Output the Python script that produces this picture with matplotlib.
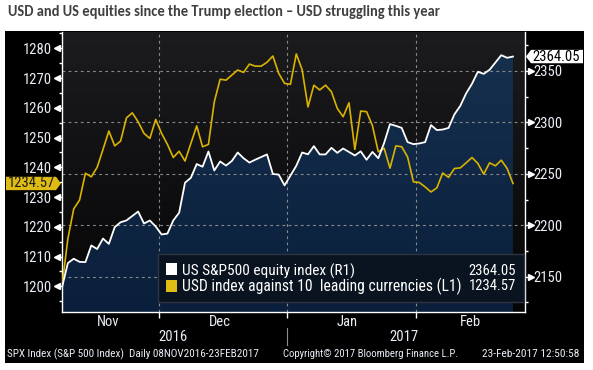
import numpy as np
import pandas as pd
import matplotlib
matplotlib.use('Agg')
import matplotlib.pyplot as plt
from matplotlib import font_manager as fm
from matplotlib.patches import Rectangle, Polygon
import matplotlib.transforms as mtransforms
from matplotlib.colors import to_rgb

W, H = 593, 370

names = sorted({f.name for f in fm.fontManager.ttflist})
def pick(cands, default):
    for c in cands:
        if c in names:
            return c
    return default
NARROW = pick(['Roboto Condensed', 'Open Sans Condensed', 'Liberation Sans Narrow'], 'Liberation Sans')
TITLE_FONT = pick(['Carlito', 'Lato'], 'DejaVu Sans')

# ---------------- data ----------------
dates = pd.bdate_range('2016-11-08', '2017-02-23')   # weekday axis
spx = [2139.56, 2163.26, 2167.48, 2164.45, 2164.20, 2180.39, 2176.94, 2187.12, 2181.90,
       2198.18, 2202.94, 2204.72, None, 2213.35, 2201.72, 2204.66, 2198.81,
       2191.08, 2191.95, 2204.71, 2212.23, 2241.35, 2246.19, 2259.53, 2256.96, 2271.72,
       2253.28, 2262.03, 2258.07, 2262.53, 2270.76, 2265.18, 2260.96, 2263.79, None,
       2268.88, 2249.92, 2249.26, 2238.83,
       None, 2257.83, 2270.75, 2269.00, 2276.98, 2268.90, 2268.90, 2275.32, 2270.44, 2274.64,
       None, 2267.89, 2271.89, 2263.69, 2271.31, 2265.20, 2280.07, 2298.37, 2296.68, 2294.69,
       2280.90, 2278.87,
       2279.55, 2280.85, 2297.42, 2292.56, 2293.08, 2294.67, 2307.87, 2316.10, 2328.25,
       2337.58, 2349.25, 2347.22, 2351.16, None, 2365.38, 2362.82, 2364.05]
usd = [1200.0, 1216.0, 1226.0, 1229.0, 1238.0, 1236.8, 1240.0, 1246.0, 1252.2, 1247.2,
       1248.8, 1256.6, 1258.3, 1255.3, 1251.4, 1249.7, 1256.1,
       1251.4, 1247.7, 1243.3, 1245.4, 1242.1, 1248.0, 1253.9, 1246.9, 1247.7, 1262.0,
       1269.6, 1269.3, 1271.0, 1272.7, 1271.9, 1274.7, 1274.0, 1274.0, 1275.3, 1277.4,
       1271.6, 1268.2,
       1267.9, 1278.1, 1272.8, 1260.3, 1267.6, 1266.0, 1267.6, 1265.4, 1259.8, 1257.0,
       1261.7, 1246.0, 1258.9, 1258.7, 1254.0, 1245.2, 1246.4, 1239.7, 1247.2, 1246.9,
       1243.5, 1235.1,
       1234.9, 1233.4, 1231.7, 1233.1, 1238.1, 1236.6, 1239.6, 1239.8, 1241.5, 1243.3,
       1241.3, 1237.7, 1241.5, 1240.5, 1242.4, 1239.6, 1234.57]
months = ['Nov', 'Dec', 'Jan', 'Feb']
years = ['2016', '2017']
spx_label = 'US S&P500 equity index (R1)'
usd_label = 'USD index against 10  leading currencies (L1)'
spx_last = '2364.05'
usd_last = '1234.57'
title = 'USD and US equities since the Trump election \u2013 USD struggling this year'
footer_left = 'SPX Index (S&P 500 Index)  Daily 08NOV2016-23FEB2017'
footer_mid = 'Copyright\u00a9 2017 Bloomberg Finance L.P.'
footer_right = '23-Feb-2017 12:50:58'

# ---------------- layout helpers ----------------
def fx(x): return x / W
def fy(y): return 1 - y / H

TXT = '#e9eef6'
YEL = '#d9b300'
GRID = '#8a8a8a'

fig = plt.figure(figsize=(W / 100, H / 100), dpi=100)
fig.patch.set_facecolor('white')
renderer = fig.canvas.get_renderer()

def fit(t, target):
    w = t.get_window_extent(renderer).width
    t.set_fontsize(t.get_fontsize() * target / w)
    return t

fig.add_artist(Rectangle((fx(5), fy(363)), fx(584) - fx(5), fy(31) - fy(363),
                         transform=fig.transFigure, facecolor='black', edgecolor='none', zorder=-1))

L, R, T, B = 62, 525, 31.5, 312
ax = fig.add_axes([fx(L), fy(B), fx(R) - fx(L), fy(T) - fy(B)])
ax2 = ax.twinx()
ax.yaxis.tick_right()
ax2.yaxis.tick_left()
ax.set_facecolor('black')

x = np.arange(len(dates))
spx_arr = np.array([np.nan if v is None else v for v in spx], dtype=float)
valid = ~np.isnan(spx_arr)
xs, ys = x[valid], spx_arr[valid]

def vgrad(top, bottom, n=256):
    t = np.linspace(0, 1, n)[:, None]
    a, b = np.array(to_rgb(top)), np.array(to_rgb(bottom))
    return (a * (1 - t) + b * t)[:, None, :]

ax.imshow(vgrad('#1c1c1f', '#050506'), extent=[0, 1, 0, 1], transform=ax.transAxes,
          aspect='auto', zorder=0, interpolation='bilinear')
poly = ax.fill_between(xs, ys, 1900, facecolor='none', edgecolor='none')
im = ax.imshow(vgrad('#16314f', '#0a1f3b'), extent=[0, 1, 0, 1], transform=ax.transAxes,
               aspect='auto', zorder=1, interpolation='bilinear')
im.set_clip_path(poly.get_paths()[0], transform=ax.transData)
poly.set_visible(False)

XMAX = 79.05
ax.set_xlim(0, XMAX)
ax.set_ylim(2115.7, 2388.4)
ax2.set_ylim(1191.36, 1285.65)

# grid
bounds = [16.5, 38.5, 60.5]
for b in bounds:
    ax.axvline(b, color=GRID, lw=0.8, ls=(0, (2.5, 3)), zorder=2)
for v in [2150, 2200, 2250, 2300, 2350]:
    ax.axhline(v, color=GRID, lw=0.8, ls=(0, (2.5, 3)), zorder=2)

# lines
ax2.plot(x, usd, color=YEL, lw=1.2, zorder=3)
ax2.plot(xs, ys, color='white', lw=1.3, zorder=4, transform=ax.transData)
ax2.set_xlim(0, XMAX)

# axes styling
for s in ['left', 'bottom', 'right']:
    ax.spines[s].set_color('white')
    ax.spines[s].set_linewidth(1.0)
ax.spines['top'].set_visible(False)
for s in ax2.spines.values():
    s.set_visible(False)

fs_tick = 10.5
ax.set_yticks([2150, 2200, 2250, 2300, 2350])
ax.set_yticks(np.arange(2125, 2400, 50), minor=True)
ax.tick_params(axis='y', which='major', colors='white', labelcolor=TXT, length=4.3, width=1,
               pad=1.6, labelsize=fs_tick)
ax.tick_params(axis='y', which='minor', colors='white', length=2.5, width=1)
for lab in ax.get_yticklabels():
    lab.set_fontfamily(NARROW)
ax2.set_yticks(np.arange(1200, 1281, 10))
ax2.set_yticks(np.arange(1195, 1290, 10), minor=True)
ax2.tick_params(axis='y', which='major', colors='white', labelcolor=TXT, length=4.3, width=1,
                pad=2.9, labelsize=fs_tick)
ax2.tick_params(axis='y', which='minor', colors='white', length=2.5, width=1)
for lab in ax2.get_yticklabels():
    lab.set_fontfamily(NARROW)
ax.set_xticks(bounds)
ax.set_xticklabels([])
ax.tick_params(axis='x', colors='white', length=4, width=1)
ax2.tick_params(axis='x', length=0)

# triangle tick heads
pw = R - L
ax.plot([1 + 5.5 / pw] * 5, [2150, 2200, 2250, 2300, 2350], ls='none', marker='>', ms=4.5,
        color='white', transform=ax.get_yaxis_transform(), clip_on=False, zorder=5)
ax2.plot([-5.5 / pw] * 9, np.arange(1200, 1281, 10), ls='none', marker='<', ms=4.5,
         color='white', transform=ax2.get_yaxis_transform(), clip_on=False, zorder=5)

# month / year labels
bt = mtransforms.blended_transform_factory(ax.transData, fig.transFigure)
for m, c in zip(months, [7.9, 27.0, 48.7, 69.8]):
    fig.text(c, fy(321.7), m, transform=bt, ha='center', va='center', color=TXT,
             fontsize=10.5, family=NARROW)
for yv, c in zip(years, [18.95, 58.3]):
    fig.text(c, fy(337), yv, transform=bt, ha='center', va='center', color=TXT,
             fontsize=10.5, family=NARROW)
fig.add_artist(plt.Line2D([38.5, 38.5], [fy(328), fy(345)], transform=bt, color='#8c8c8c', lw=0.8))

# footer
fit(fig.text(fx(6.7), fy(354), footer_left, ha='left', va='center', color=TXT, fontsize=7.4,
             family=NARROW), 250)
fit(fig.text(fx(282.7), fy(354), footer_mid, ha='left', va='center', color=TXT, fontsize=7.4,
             family=NARROW), 174)
fit(fig.text(fx(579.5), fy(354), footer_right, ha='right', va='center', color=TXT, fontsize=7.4,
             family=NARROW), 96.6)

# legend box
fig.add_artist(Rectangle((fx(157.5), fy(302)), fx(524) - fx(157.5), fy(254) - fy(302),
                         transform=fig.transFigure, facecolor='#0a1320', edgecolor='#2e3642',
                         lw=1.0, zorder=5))
fig.add_artist(Rectangle((fx(166), fy(275)), fx(11.5), fy(0) - fy(12), transform=fig.transFigure,
                         facecolor='white', edgecolor='none', zorder=6))
fig.add_artist(Rectangle((fx(166), fy(291.5)), fx(11.5), fy(0) - fy(12), transform=fig.transFigure,
                         facecolor='#e0bd12', edgecolor='none', zorder=6))
fit(fig.text(fx(182.3), fy(271), spx_label, ha='left', va='center', color='white', fontsize=10.5,
             family=NARROW, zorder=7), 175)
fit(fig.text(fx(182.3), fy(286.5), usd_label, ha='left', va='center', color='white', fontsize=10.5,
             family=NARROW, zorder=7), 281)
fig.text(fx(516), fy(271), spx_last, ha='right', va='center', color='white', fontsize=10.5,
         family=NARROW, zorder=7)
fig.text(fx(516), fy(286.5), usd_last, ha='right', va='center', color='white', fontsize=10.5,
         family=NARROW, zorder=7)

# last-value tags
y_spx = H - ax.transData.transform((0, float(spx_last)))[1]
y_usd = H - ax2.transData.transform((0, float(usd_last)))[1]
hh = 6.7
fig.add_artist(Polygon([(fx(R + 1), fy(y_spx)), (fx(R + 6), fy(y_spx - hh)), (fx(583), fy(y_spx - hh)),
                        (fx(583), fy(y_spx + hh)), (fx(R + 6), fy(y_spx + hh))],
                       closed=True, transform=fig.transFigure, facecolor='white', edgecolor='none', zorder=6))
fig.text(fx(556), fy(y_spx), spx_last, ha='center', va='center', color='black', fontsize=10.5,
         family=NARROW, zorder=7)
fig.add_artist(Polygon([(fx(6), fy(y_usd - hh)), (fx(L - 6), fy(y_usd - hh)), (fx(L - 1), fy(y_usd)),
                        (fx(L - 6), fy(y_usd + hh)), (fx(6), fy(y_usd + hh))],
                       closed=True, transform=fig.transFigure, facecolor='#dfbc14', edgecolor='none', zorder=6))
fig.text(fx(31), fy(y_usd), usd_last, ha='center', va='center', color='#1a1a1a', fontsize=10.5,
         family=NARROW, zorder=7)

# title (fit to measured width)
fit(fig.text(fx(8), fy(12), title, ha='left', va='center', color='#404040', fontsize=11,
             fontweight='bold', family=TITLE_FONT), 433)

fig.savefig('out.png', dpi=100, facecolor=fig.get_facecolor())
